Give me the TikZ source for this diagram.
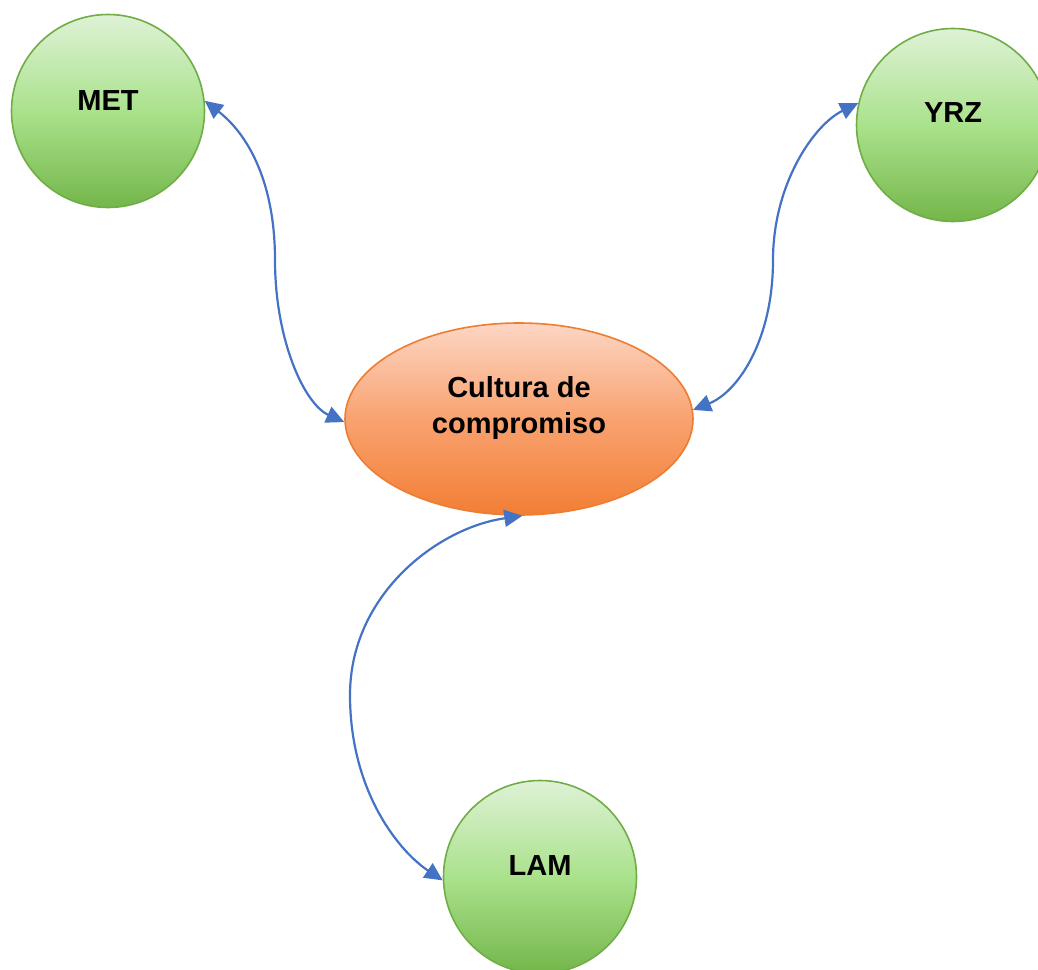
\documentclass[tikz,border=0pt]{standalone}
\usepackage{fontspec}
\setmainfont{Liberation Sans}
\usetikzlibrary{arrows.meta,shapes.geometric}

\definecolor{linkblue}{HTML}{4472C4}
\definecolor{greenedge}{HTML}{70AD47}
\definecolor{greentop}{RGB}{222,242,214}
\definecolor{greenmid}{RGB}{170,226,140}
\definecolor{greenbot}{RGB}{116,182,74}
\definecolor{orangeedge}{HTML}{ED7D31}
\definecolor{orangetop}{RGB}{252,214,196}
\definecolor{orangemid}{RGB}{249,162,112}
\definecolor{orangebot}{RGB}{242,126,52}

\tikzset{
  txt/.style={font=\bfseries\fontsize{29}{36}\selectfont, text=black, align=center},
  bubble/.style={circle, draw=greenedge, line width=1.6pt, minimum size=193pt, inner sep=0pt,
    top color=greentop, bottom color=greenbot, middle color=greenmid},
  core/.style={ellipse, draw=orangeedge, line width=1.6pt, minimum width=348pt, minimum height=192pt,
    inner sep=0pt, top color=orangetop, bottom color=orangebot, middle color=orangemid},
  head/.tip={Triangle[length=18pt,width=17pt]},
  link/.style={draw=linkblue, line width=2.2pt, head-head},
}

\begin{document}
\begin{tikzpicture}[x=1pt, y=-1pt]
\useasboundingbox (0,0) rectangle (1038,969);

% concept bubbles
\node[bubble, label={[txt, yshift=10pt]center:MET}] (met) at (108,111) {};
\node[bubble, label={[txt, yshift=12pt]center:YRZ}] (yrz) at (953,125) {};
\node[bubble, label={[txt, yshift=11pt]center:LAM}] (lam) at (540,877) {};

% central ellipse
\node[core, label={[txt, yshift=11pt]center:Cultura de\\compromiso}] (cult) at (519,419) {};

% turning points of the curved links
\coordinate (m1) at (275,260);
\coordinate (m2) at (773,260);
\coordinate (m3) at (350,695);

% curved two-way links
\draw[link] (met.6) .. controls +(45,35) and +(0,-75) .. (m1)
  .. controls +(0,80) and +(-40,-18) .. (cult.181);
\draw[link] (cult.3) .. controls +(45,-18) and +(0,80) .. (m2)
  .. controls +(0,-75) and +(-45,22) .. (yrz.167);
\draw[link] (cult.-88) .. controls +(-85,12) and +(0,-100) .. (m3)
  .. controls +(0,95) and +(-45,-30) .. (lam.182);
\end{tikzpicture}
\end{document}
